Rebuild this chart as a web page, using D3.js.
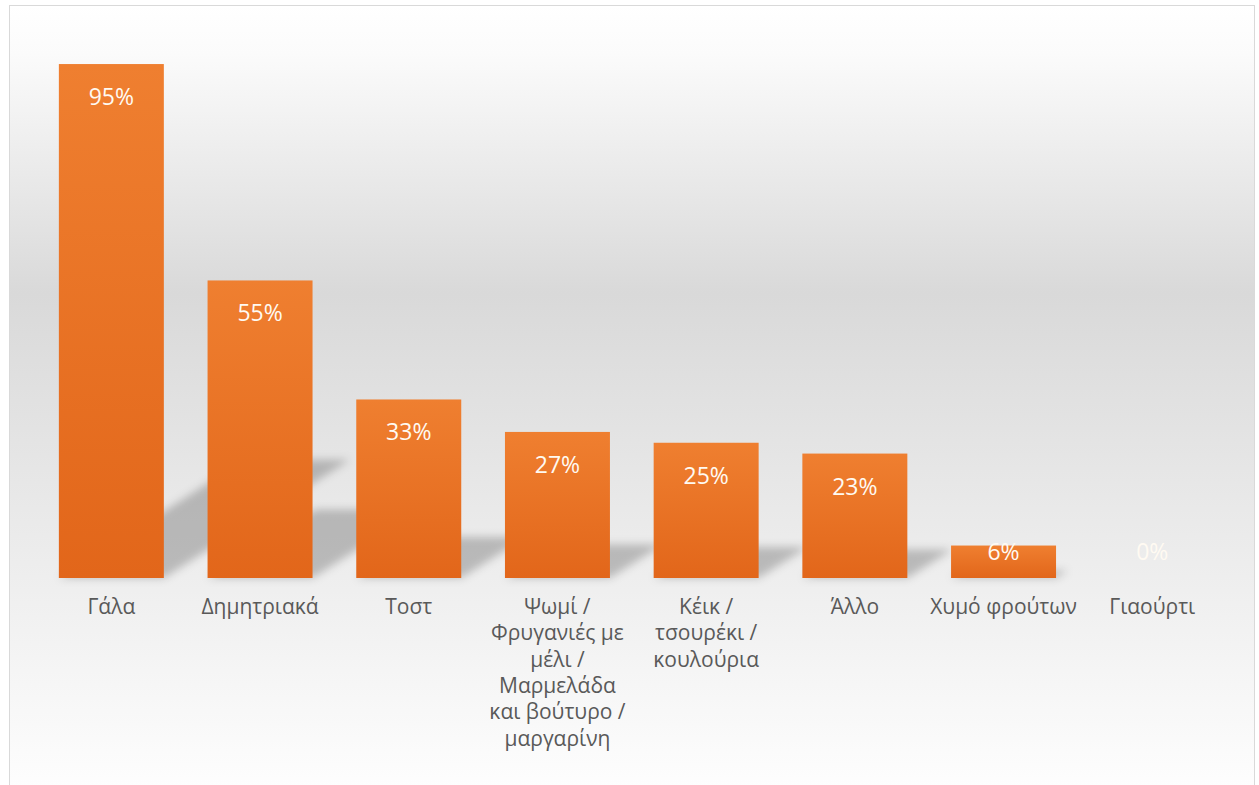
<!DOCTYPE html>
<html>
<head>
<meta charset="utf-8">
<script src="https://cdn.jsdelivr.net/npm/d3@7"></script>
<style>
  html, body { margin: 0; padding: 0; background: #ffffff; }
  svg { display: block; }
</style>
</head>
<body>
<svg id="chart" width="1259" height="785"></svg>
<script>
// ---- data ----
const categories = [
  "Γάλα",
  "Δημητριακά",
  "Τοστ",
  "Ψωμί / Φρυγανιές με μέλι / Μαρμελάδα και βούτυρο / μαργαρίνη",
  "Κέικ / τσουρέκι / κουλούρια",
  "Άλλο",
  "Χυμό φρούτων",
  "Γιαούρτι"
];
const categoryLines = [
  ["Γάλα"],
  ["Δημητριακά"],
  ["Τοστ"],
  ["Ψωμί /", "Φρυγανιές με", "μέλι /", "Μαρμελάδα", "και βούτυρο /", "μαργαρίνη"],
  ["Κέικ /", "τσουρέκι /", "κουλούρια"],
  ["Άλλο"],
  ["Χυμό φρούτων"],
  ["Γιαούρτι"]
];
const values = [95, 55, 33, 27, 25, 23, 6, 0];
const valueLabels = ["95%", "55%", "33%", "27%", "25%", "23%", "6%", "0%"];

// ---- layout ----
const W = 1259, H = 785;
const baseY = 578;
const svg = d3.select("#chart");
const defs = svg.append("defs");

const bg = defs.append("linearGradient").attr("id", "bgGrad")
  .attr("x1", 0).attr("y1", 0).attr("x2", 0).attr("y2", 1);
bg.append("stop").attr("offset", "0%").attr("stop-color", "#ffffff");
bg.append("stop").attr("offset", "6%").attr("stop-color", "#fbfbfb");
bg.append("stop").attr("offset", "36%").attr("stop-color", "#d9d9d9");
bg.append("stop").attr("offset", "100%").attr("stop-color", "#ffffff");

const barGrad = defs.append("linearGradient").attr("id", "barGrad")
  .attr("x1", 0).attr("y1", 0).attr("x2", 0).attr("y2", 1);
barGrad.append("stop").attr("offset", "0%").attr("stop-color", "#ef7f30");
barGrad.append("stop").attr("offset", "100%").attr("stop-color", "#e2661a");

const blur = defs.append("filter").attr("id", "shadowBlur")
  .attr("x", "-20%").attr("y", "-20%").attr("width", "140%").attr("height", "140%");
blur.append("feGaussianBlur").attr("stdDeviation", 4);

// chart area frame
svg.append("rect")
  .attr("x", 9.5).attr("y", 5.5)
  .attr("width", 1245).attr("height", 800)
  .attr("fill", "url(#bgGrad)")
  .attr("stroke", "#d9d9d9").attr("stroke-width", 1);

const x = d3.scaleBand()
  .domain(categories)
  .range([37, 37 + 8 * 148.7])
  .paddingInner(0.294)
  .paddingOuter(0.147);

const y = d3.scaleLinear().domain([0, 100]).range([baseY, 37]);

const data = categories.map((c, i) => ({ c, v: values[i], label: valueLabels[i], lines: categoryLines[i] }));

// perspective shadows
const shadowG = svg.append("g").attr("filter", "url(#shadowBlur)");
shadowG.selectAll("path").data(data.filter(d => d.v > 0)).join("path")
  .attr("d", d => {
    const x0 = x(d.c), w = x.bandwidth();
    const h = baseY - y(d.v);
    const dx = 0.362 * h, dy = 0.23 * h;
    return `M${x0},${baseY} L${x0 + w},${baseY} L${x0 + w + dx},${baseY - dy} L${x0 + dx},${baseY - dy} Z`;
  })
  .attr("fill", "#000")
  .attr("fill-opacity", 0.22);

// bars
svg.append("g").selectAll("rect").data(data).join("rect")
  .attr("x", d => x(d.c))
  .attr("y", d => y(d.v))
  .attr("width", x.bandwidth())
  .attr("height", d => baseY - y(d.v))
  .attr("fill", "url(#barGrad)");

// value labels
svg.append("g").selectAll("text").data(data).join("text")
  .attr("x", d => x(d.c) + x.bandwidth() / 2)
  .attr("y", d => Math.min(y(d.v) + 33, 552) + 8)
  .attr("text-anchor", "middle")
  .attr("font-family", "'Open Sans', sans-serif")
  .attr("font-size", 23)
  .attr("fill", "#fffaf2")
  .text(d => d.label);

// category labels
const cat = svg.append("g").selectAll("text").data(data).join("text")
  .attr("x", d => x(d.c) + x.bandwidth() / 2)
  .attr("y", 614)
  .attr("text-anchor", "middle")
  .attr("font-family", "'Open Sans', sans-serif")
  .attr("font-size", 21)
  .attr("fill", "#595959");
cat.selectAll("tspan").data(d => d.lines.map(l => ({ l, x: x(d.c) + x.bandwidth() / 2 }))).join("tspan")
  .attr("x", t => t.x)
  .attr("dy", (t, i) => i === 0 ? 0 : 26.3)
  .text(t => t.l);
</script>
</body>
</html>
